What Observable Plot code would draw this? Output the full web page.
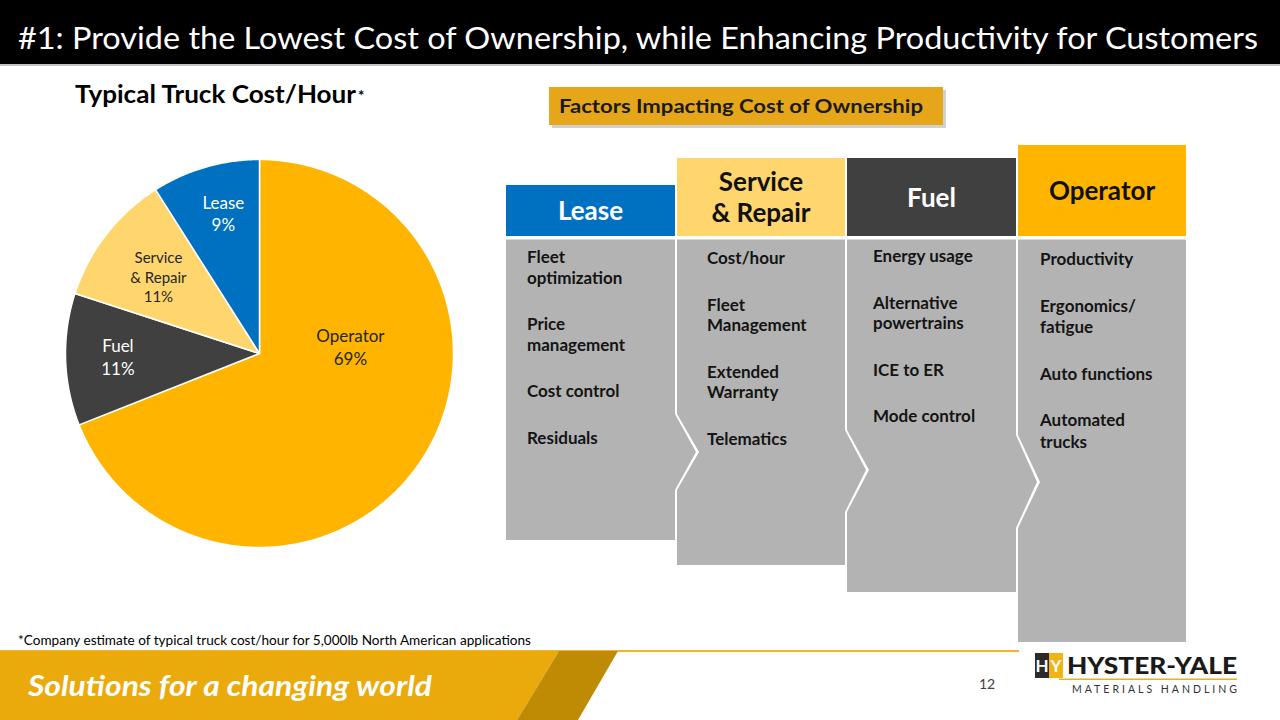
<!DOCTYPE html>
<html>
<head>
<meta charset="utf-8">
<script src="https://cdn.jsdelivr.net/npm/d3@7"></script>
<script src="https://cdn.jsdelivr.net/npm/@observablehq/plot@0.6"></script>
<style>
  html, body { margin: 0; padding: 0; background: #fff; }
  #slide { position: relative; width: 1280px; height: 720px; overflow: hidden; background: #fff; font-family: Lato, "Open Sans", sans-serif; }
  #deco { position: absolute; left: 0; top: 0; }
  #pie { position: absolute; left: 59px; top: 153px; }
</style>
</head>
<body>
<div id="slide">
  <svg id="deco" width="1280" height="720"></svg>
  <div id="pie"></div>
</div>
<script>
// ---------------- DATA ----------------
const categories = ["Operator", "Fuel", "Service & Repair", "Lease"];
const shares = [69, 11, 11, 9];
const sliceLabels = ["Operator", "Fuel", "Service\n& Repair", "Lease"];

const factorHeaders = ["Lease", "Service\n& Repair", "Fuel", "Operator"];
const leaseFactors = [["Fleet", "optimization"], ["Price", "management"], ["Cost control"], ["Residuals"]];
const serviceFactors = [["Cost/hour"], ["Fleet", "Management"], ["Extended", "Warranty"], ["Telematics"]];
const fuelFactors = [["Energy usage"], ["Alternative", "powertrains"], ["ICE to ER"], ["Mode control"]];
const operatorFactors = [["Productivity"], ["Ergonomics/", "fatigue"], ["Auto functions"], ["Automated", "trucks"]];

const titleText = "#1: Provide the Lowest Cost of Ownership, while Enhancing Productivity for Customers";
const chartTitle = "Typical Truck Cost/Hour";
const boxTitle = "Factors Impacting Cost of Ownership";
const footnote = "*Company estimate of typical truck cost/hour for 5,000lb North American applications";
const tagline = "Solutions for a changing world";
const pageNumber = "12";

// ---------------- STYLE / LAYOUT ----------------
const sliceColors = ["#FFB500", "#404040", "#FFD66D", "#0070C0"];
const labelInk = {"Operator": "#262626", "Fuel": "#ffffff", "Service & Repair": "#262626", "Lease": "#ffffff"};
const labelRadius = {"Operator": 0.47, "Fuel": 0.73, "Service & Repair": 0.655, "Lease": 0.75};
const labelAngleShift = {"Operator": -38.6, "Fuel": 0.6, "Service & Repair": -0.5, "Lease": 1.8};

// ---------------- PIE (Observable Plot) ----------------
const table = categories.map((c, i) => ({key: c, value: shares[i], label: sliceLabels[i]}));
const arcs = d3.pie().sort(null).value(d => d.value)(table);

const slicePts = [];
for (const a of arcs) {
  const k = a.data.key;
  slicePts.push({key: k, x: 0, y: 0});
  const n = Math.max(2, Math.ceil((a.endAngle - a.startAngle) / (Math.PI / 360)));
  for (let j = 0; j <= n; j++) {
    const t = a.startAngle + (a.endAngle - a.startAngle) * j / n;
    slicePts.push({key: k, x: Math.sin(t), y: Math.cos(t)});
  }
  slicePts.push({key: k, x: 0, y: 0});
}

const labelData = arcs.map(a => {
  const k = a.data.key;
  const mid = (a.startAngle + a.endAngle) / 2 + labelAngleShift[k] * Math.PI / 180;
  const r = labelRadius[k];
  return {key: k, x: r * Math.sin(mid), y: r * Math.cos(mid), text: a.data.label + "\n" + a.data.value + "%"};
});

const pie = Plot.plot({
  width: 400,
  height: 400,
  margin: 6,
  x: {domain: [-1, 1], axis: null},
  y: {domain: [-1, 1], axis: null},
  color: {domain: categories, range: sliceColors},
  style: {background: "transparent", overflow: "visible"},
  marks: [
    Plot.line(slicePts, {x: "x", y: "y", z: "key", fill: "key", stroke: "white", strokeWidth: 1.5, strokeLinejoin: "round", curve: "linear"}),
    Plot.text(labelData.filter(d => d.key === "Operator"), {
      x: "x", y: "y", text: "text", fill: labelInk["Operator"],
      fontSize: 17, fontFamily: "Lato", lineHeight: 1.33
    }),
    Plot.text(labelData.filter(d => d.key === "Fuel" || d.key === "Lease"), {
      x: "x", y: "y", text: "text", fill: labelInk["Fuel"],
      fontSize: 17, fontFamily: "Lato", lineHeight: 1.33
    }),
    Plot.text(labelData.filter(d => d.key === "Service & Repair"), {
      x: "x", y: "y", text: "text", fill: labelInk["Service & Repair"],
      fontSize: 15, fontFamily: "Lato", lineHeight: 1.3
    })
  ]
});
document.getElementById("pie").appendChild(pie);

// ---------------- SLIDE DECORATION ----------------
const deco = d3.select("#deco");
function txt(x, y, s, o = {}) {
  const t = deco.append("text").attr("x", x).attr("y", y).text(s)
    .attr("font-family", o.family || "Lato")
    .attr("font-size", o.size || 16)
    .attr("font-weight", o.weight || "normal")
    .attr("font-style", o.style || "normal")
    .attr("fill", o.fill || "#000")
    .attr("text-anchor", o.anchor || "start");
  if (o.len) t.attr("textLength", o.len).attr("lengthAdjust", o.adjust || "spacingAndGlyphs");
  return t;
}

// title bar
deco.append("rect").attr("x", 0).attr("y", 0).attr("width", 1280).attr("height", 64).attr("fill", "#000");
deco.append("rect").attr("x", 0).attr("y", 64).attr("width", 1280).attr("height", 2).attr("fill", "#C4C4C4");
txt(18, 49, titleText, {size: 30, fill: "#fff", len: 1240});

// chart title
txt(75, 103, chartTitle, {size: 25, weight: "bold", fill: "#000", len: 281});
txt(358, 101, "*", {size: 15, weight: "bold", fill: "#000"});

// factors box
deco.append("rect").attr("x", 552).attr("y", 90).attr("width", 394).attr("height", 38).attr("fill", "#000").attr("opacity", 0.18);
deco.append("rect").attr("x", 549).attr("y", 87).attr("width", 394).attr("height", 38).attr("fill", "#E5A619");
txt(559, 113, boxTitle, {size: 19, weight: "bold", fill: "#1a1a1a", len: 364});

// columns
const bodyGray = "#B3B3B3";
const cols = [
  {x0: 506, x1: 675, hTop: 185, hFill: "#0070C0", ink: "#fff", bottom: 540, items: leaseFactors, tx: 527, start: 257},
  {x0: 677, x1: 845, hTop: 158, hFill: "#FFD66D", ink: "#111", bottom: 565, items: serviceFactors, tx: 707, start: 258},
  {x0: 847, x1: 1016, hTop: 158, hFill: "#404040", ink: "#fff", bottom: 592, items: fuelFactors, tx: 873, start: 256},
  {x0: 1018, x1: 1186, hTop: 145, hFill: "#FFB500", ink: "#111", bottom: 642, items: operatorFactors, tx: 1040, start: 259}
];
const joints = [[414, 452, 490], [430, 470, 512], [435, 482, 528]];
const tipDepth = 21;

cols.forEach((c, i) => {
  deco.append("rect").attr("x", c.x0).attr("y", c.hTop).attr("width", c.x1 - c.x0).attr("height", 236 - c.hTop).attr("fill", c.hFill);
  const lines = factorHeaders[i].split("\n");
  const cx = (c.x0 + c.x1) / 2;
  const cy = (c.hTop + 236) / 2;
  const lh = 31;
  lines.forEach((l, j) => {
    const yc = cy + (j - (lines.length - 1) / 2) * lh;
    txt(cx, yc + 9.5, l, {size: 26, weight: "bold", fill: c.ink, anchor: "middle"});
  });
  const pts = [];
  pts.push([c.x0, 239.5]);
  pts.push([c.x1, 239.5]);
  if (i < 3) {
    const j = joints[i];
    pts.push([c.x1, j[0]], [c.x1 + tipDepth, j[1]], [c.x1, j[2]]);
  }
  pts.push([c.x1, c.bottom]);
  pts.push([c.x0, c.bottom]);
  if (i > 0) {
    const j = joints[i - 1];
    pts.push([c.x0, j[2]], [c.x0 + tipDepth + 1, j[1]], [c.x0, j[0]]);
  }
  deco.append("polygon").attr("points", pts.map(p => p.join(",")).join(" ")).attr("fill", bodyGray);
  let y = c.start;
  const lineGap = i === 3 ? 21.5 : 20.5;
  c.items.forEach(item => {
    item.forEach((l, k) => {
      txt(c.tx, y + 6, l, {size: 17, weight: "bold", fill: "#141414"});
      if (k < item.length - 1) y += lineGap;
    });
    y += 46.5;
  });
});

// footnote
txt(18, 645, footnote, {size: 13.5, fill: "#000", len: 513});

// bottom band
deco.append("rect").attr("x", 0).attr("y", 650).attr("width", 1019).attr("height", 2).attr("fill", "#F2B42C");
deco.append("polygon").attr("points", "0,651 559,651 517,720 0,720").attr("fill", "#EAAA0C");
deco.append("polygon").attr("points", "559,651 618,651 578,720 517,720").attr("fill", "#BF8B05");
txt(28, 696, tagline, {size: 29, weight: "bold", style: "italic", fill: "#fff", len: 404});

// page number
txt(987, 689, pageNumber, {size: 14, fill: "#404040", anchor: "middle"});

// logo
deco.append("rect").attr("x", 1035).attr("y", 653).attr("width", 14).attr("height", 25).attr("fill", "#2b2b2b");
deco.append("rect").attr("x", 1049).attr("y", 653).attr("width", 14).attr("height", 25).attr("fill", "#F2B316");
txt(1042, 672, "H", {size: 17, weight: "bold", fill: "#fff", anchor: "middle"});
txt(1056, 672, "Y", {size: 17, weight: "bold", fill: "#fff", anchor: "middle"});
txt(1067, 674, "HYSTER-YALE", {size: 23, weight: "900", fill: "#1a1a1a", len: 170});
deco.append("rect").attr("x", 1059).attr("y", 678.5).attr("width", 178).attr("height", 1.5).attr("fill", "#E8B023");
txt(1072, 693, "MATERIALS HANDLING", {size: 10.5, fill: "#333", len: 165, adjust: "spacing"});
</script>
</body>
</html>
